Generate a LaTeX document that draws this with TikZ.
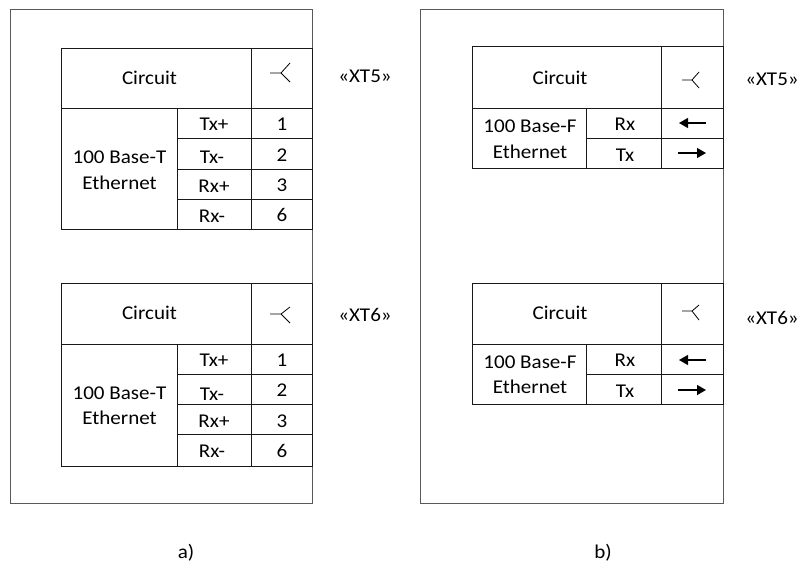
\documentclass[tikz,border=0pt]{standalone}
\usepackage{fontspec}
\setmainfont[FakeStretch=1.08]{Carlito}
\usetikzlibrary{arrows.meta}

\tikzset{
  frameline/.style={black!65,line width=1pt},
  gridline/.style={black!90,line width=0.9pt},
  forkline/.style={black,line width=0.8pt},
  sigarrow/.style={-{Triangle[length=9pt,width=10pt]},black,line width=1.3pt},
  lbl/.style={inner sep=0pt,font=\fontsize{19.5}{22}\selectfont}
}

\begin{document}
\begin{tikzpicture}[x=1pt,y=-1pt]
\useasboundingbox (0,0) rectangle (798,565);

% panel a
\draw[frameline] (10,9) rectangle (312,503);

\draw[gridline] (61,48) rectangle (312,229);
\draw[gridline] (61,108) -- (312,108);
\draw[gridline] (177,138) -- (312,138);
\draw[gridline] (177,169) -- (312,169);
\draw[gridline] (177,199) -- (312,199);
\draw[gridline] (251,48) -- (251,229);
\draw[gridline] (177,108) -- (177,229);
\draw[forkline] (270,73) -- (281,73) -- (290,63);
\draw[forkline] (281,73) -- (290,82);

\node[lbl] (circA1) at (149.5,78) {Circuit};
\node[lbl] (baseA1) at (119.5,157) {100 Base-T};
\node[lbl] (ethA1) at (119.5,183) {Ethernet};
\node[lbl] (txpA1) at (214,124) {Tx+};
\node[lbl] (txmA1) at (212,157) {Tx-};
\node[lbl] (rxpA1) at (214,186) {Rx+};
\node[lbl] (rxmA1) at (212,216) {Rx-};
\node[lbl] (pinA1a) at (282,124) {1};
\node[lbl] (pinA1b) at (282,155) {2};
\node[lbl] (pinA1c) at (282,185) {3};
\node[lbl] (pinA1d) at (282,215) {6};
\node[lbl] (xtA1) at (365,76) {«XT5»};

\draw[gridline] (61,283) rectangle (312,466);
\draw[gridline] (61,344) -- (312,344);
\draw[gridline] (177,374) -- (312,374);
\draw[gridline] (177,404) -- (312,404);
\draw[gridline] (177,434) -- (312,434);
\draw[gridline] (251,283) -- (251,466);
\draw[gridline] (177,344) -- (177,466);
\draw[forkline] (270,314) -- (281,314) -- (290,307);
\draw[forkline] (281,314) -- (290,323);

\node[lbl] (circA2) at (149.5,313) {Circuit};
\node[lbl] (baseA2) at (119.5,393) {100 Base-T};
\node[lbl] (ethA2) at (119.5,418) {Ethernet};
\node[lbl] (txpA2) at (214,360) {Tx+};
\node[lbl] (txmA2) at (212,394) {Tx-};
\node[lbl] (rxpA2) at (214,421) {Rx+};
\node[lbl] (rxmA2) at (212,451) {Rx-};
\node[lbl] (pinA2a) at (282,360) {1};
\node[lbl] (pinA2b) at (282,390) {2};
\node[lbl] (pinA2c) at (282,421) {3};
\node[lbl] (pinA2d) at (282,451) {6};
\node[lbl] (xtA2) at (365,315) {«XT6»};

\node[lbl] (capA) at (186,553) {a)};

% panel b
\draw[frameline] (420.5,9) rectangle (723,503);

\draw[gridline] (472,46) rectangle (723,168);
\draw[gridline] (472,108) -- (723,108);
\draw[gridline] (586.5,138) -- (723,138);
\draw[gridline] (661.5,46) -- (661.5,168);
\draw[gridline] (586.5,108) -- (586.5,168);
\draw[forkline] (682,80) -- (692,80) -- (699,72);
\draw[forkline] (692,80) -- (699,88);

\node[lbl] (circB1) at (560,78) {Circuit};
\node[lbl] (baseB1) at (530,126) {100 Base-F};
\node[lbl] (ethB1) at (530,152) {Ethernet};
\node[lbl] (rxB1) at (625,124) {Rx};
\node[lbl] (txB1) at (625,155) {Tx};
\coordinate (rxlB1) at (706,123);
\coordinate (rxrB1) at (679,123);
\coordinate (txlB1) at (678,153);
\coordinate (txrB1) at (706,153);
\draw[sigarrow] (rxlB1) -- (rxrB1);
\draw[sigarrow] (txlB1) -- (txrB1);
\node[lbl] (xtB1) at (772,79) {«XT5»};

\draw[gridline] (472,283) rectangle (723,404);
\draw[gridline] (472,344) -- (723,344);
\draw[gridline] (586.5,374) -- (723,374);
\draw[gridline] (661.5,283) -- (661.5,404);
\draw[gridline] (586.5,344) -- (586.5,404);
\draw[forkline] (682,311) -- (692,311) -- (699,305);
\draw[forkline] (692,311) -- (699,320);

\node[lbl] (circB2) at (560,313) {Circuit};
\node[lbl] (baseB2) at (530,362) {100 Base-F};
\node[lbl] (ethB2) at (530,387) {Ethernet};
\node[lbl] (rxB2) at (625,360) {Rx};
\node[lbl] (txB2) at (625,391) {Tx};
\coordinate (rxlB2) at (706,360);
\coordinate (rxrB2) at (679,360);
\coordinate (txlB2) at (678,390);
\coordinate (txrB2) at (706,390);
\draw[sigarrow] (rxlB2) -- (rxrB2);
\draw[sigarrow] (txlB2) -- (txrB2);
\node[lbl] (xtB2) at (772,318) {«XT6»};

\node[lbl] (capB) at (603,553) {b)};

\end{tikzpicture}
\end{document}
